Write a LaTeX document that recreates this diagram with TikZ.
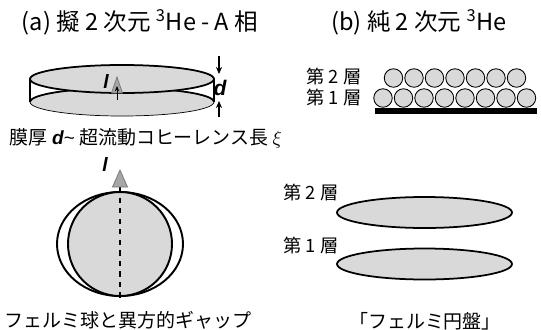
\documentclass[tikz,border=0pt]{standalone}
\usepackage{fontspec}
\setmainfont{Noto Sans CJK JP}
\newfontfamily\vecfont{Liberation Sans}
\usetikzlibrary{arrows.meta,positioning}

\definecolor{diskgray}{gray}{0.85}
\newcommand{\bvec}[1]{{\vecfont\bfseries\itshape #1}}

\begin{document}
\begin{tikzpicture}[
    x=0.02cm, y=-0.02cm,
    title/.style={font=\fontsize{13.4}{15}\selectfont, inner sep=0pt},
    caption/.style={font=\fontsize{10.8}{12}\selectfont, inner sep=0pt},
    layer/.style={font=\fontsize{10.4}{12}\selectfont, inner sep=0pt},
    atom/.style={circle, draw, fill=diskgray, line width=0.5pt,
        minimum size=0.37cm, inner sep=0pt},
    rim/.style={line width=1pt},
    lvec/.style={fill=gray!70, draw=gray!90!black, line width=0.4pt},
    dmark/.style={-{Stealth[length=4pt,width=3.5pt]}, line width=0.6pt}
]
\useasboundingbox (0,0) rectangle (541,329);

% titles
\node[title] (ta) at (140,22) {(a) 擬 2 次元 \textsuperscript{3}He - A 相};
\node[title] (tb) at (419,22) {(b) 純 2 次元 \textsuperscript{3}He};

% quasi-2D film
\fill[diskgray] (122,102) ellipse (92 and 14);
\draw[line width=0.4pt] (122,102) ellipse (92 and 14);
\draw[rim] (30,102) arc (180:360:92 and 14);
\draw[line width=0.6pt] (30,79) -- (30,102) (214,79) -- (214,102);
\draw[rim, fill=diskgray] (122,79) ellipse (92 and 14);
\draw[line width=0.4pt] (30,79) arc (180:360:92 and 14);
\draw[lvec] (117,77) -- (122.5,93) -- (111.5,93) -- cycle;
\draw[-{Stealth[length=3pt,width=2.5pt]}, line width=0.5pt] (117,100) -- (117,86);
\node[font=\fontsize{11}{11}\selectfont, inner sep=0pt] (la) at (106,81) {\bvec{l}};

% film thickness
\node[font=\fontsize{12}{12}\selectfont, inner sep=0pt] (d) at (220,88) {\bvec{d}};
\coordinate (dtop) at (219,56);
\coordinate (dbot) at (219,117);
\draw[dmark] (dtop) -- (219,74);
\draw[dmark] (dbot) -- (219,101);

\node[caption] (ca) at (146,138) {膜厚 \bvec{d}{\vecfont\textasciitilde} 超流動コヒーレンス長 $\xi$};

% Fermi sphere with anisotropic gap
\draw[line width=1.1pt, fill=white] (120,244) ellipse (63 and 52);
\draw[line width=1.1pt, fill=diskgray] (120,244) circle (52);
\draw[dashed, line width=0.6pt] (120,187) -- (120,302);
\draw[lvec] (120,170) -- (127.5,187) -- (112.5,187) -- cycle;
\node[font=\fontsize{11}{11}\selectfont, inner sep=0pt] (lb) at (105,164) {\bvec{l}};
\node[caption] (cb) at (128,320) {フェルミ球と異方的ギャップ};

% adsorbed layers on the substrate
\node[layer] (l2a) at (334,77) {第 2 層};
\node[layer] (l1a) at (334,98) {第 1 層};
\foreach \i in {0,...,7}
  \node[atom] (b\i) at (383+20.5*\i,98) {};
\foreach \i in {0,...,6}
  \node[atom] (t\i) at (393.5+20.5*\i,78) {};
\fill (375,108) rectangle (537,114);

% Fermi disks
\node[layer] (l2b) at (311,193) {第 2 層};
\node[layer] (l1b) at (311,246) {第 1 層};
\draw[line width=1pt, fill=diskgray] (424.5,212.5) ellipse (87.5 and 15.5);
\draw[line width=1pt, fill=diskgray] (424.5,264) ellipse (87.5 and 15.5);
\node[caption] (cc) at (425,321) {「フェルミ円盤」};
\end{tikzpicture}
\end{document}
